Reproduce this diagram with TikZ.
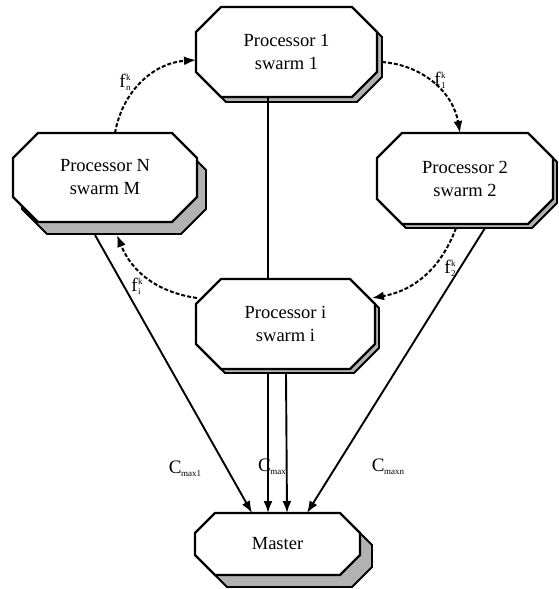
\documentclass[tikz,border=0pt]{standalone}
\usepackage{fontspec}
\setmainfont{Liberation Serif}
\usetikzlibrary{arrows.meta,calc}
\tikzset{
 boxline/.style={draw=black,line width=2.3pt,fill=white,line join=miter},
 boxshadow/.style={draw=black,line width=1.8pt,fill=black!30,line join=miter},
 boxtext/.style={draw=none,inner sep=0pt,outer sep=0pt,align=center,font=\fontsize{18.5}{23}\selectfont},
 link/.style={line width=1.9pt,-{Latex[length=12pt,width=9pt]}},
 plain/.style={line width=1.9pt},
 msg/.style={line width=2pt,dash pattern=on 4pt off 2pt,-{Latex[length=12pt,width=9pt]}},
 lbl/.style={inner sep=0pt,font=\fontsize{19}{19}\selectfont},
}
\newcommand\octpath[5]{(#1+#5,-#2) -- (#3-#5,-#2) -- (#3,-#2-#5) -- (#3,-#4+#5) -- (#3-#5,-#4) -- (#1+#5,-#4) -- (#1,-#4+#5) -- (#1,-#2-#5) -- cycle}
\newcommand\octbox[9]{%
 \draw[boxshadow,shift={(#7,-#8)}] \octpath{#2}{#3}{#4}{#5}{#6};
 \draw[boxline] \octpath{#2}{#3}{#4}{#5}{#6};
 \node[boxtext,minimum width={(#4-#2)*1pt},minimum height={(#5-#3)*1pt}] (#1) at ({(#2+#4)/2},{-(#3+#5)/2}) {#9};
}
\newcommand\smf{\fontsize{9}{9}\selectfont}
\newcommand\fk[1]{f\kern0.5pt\rlap{\raisebox{-3pt}{\smf #1}}\raisebox{7pt}{\smf k}}
\newcommand\cm[1]{C\kern-0.5pt\raisebox{-3pt}{\smf #1}}
\begin{document}
\begin{tikzpicture}[x=1pt,y=1pt]
\useasboundingbox (0,0) rectangle (558,-589);
\octbox{p1}{196}{7}{377}{97}{25}{5}{5}{Processor 1\\swarm 1}
\octbox{pN}{13}{133}{197}{222}{25}{9}{12}{Processor N\\swarm M}
\octbox{p2}{377}{133}{553}{224}{25}{4}{4}{Processor 2\\swarm 2}
\octbox{pI}{196}{279}{375}{369}{25}{4}{4}{Processor i\\swarm i}
\octbox{ma}{195}{513}{360}{575}{20}{12}{12}{Master}
\draw[plain] ($(p1.south)+(-18.5,0)$) -- ($(pI.north)+(-17.5,0)$);
\draw[msg] ($(pN.north)+(10,0)$) to[bend left=38] ($(p1.west)+(0,-8)$);
\draw[msg] ($(p1.east)+(5,-10)$) to[bend left=38] ($(p2.north)+(-5,0)$);
\draw[msg] ($(p2.south)+(-9,-4)$) to[bend left=30] ($(pI.east)+(-3,26)$);
\draw[msg] ($(pI.west)+(1,26)$) to[bend left=30] ($(pN.south)+(12,-13)$);
\draw[link] ($(pN.south)+(-10,-13)$) -- ($(ma.north)+(-25.5,0)$);
\draw[link] ($(pI.south)+(-17.5,-4)$) -- ($(ma.north)+(-9.5,0)$);
\draw[link] ($(pI.south)+(0.5,-4)$) -- ($(ma.north)+(9.5,0)$);
\draw[link] ($(p2.south)+(20,-4)$) -- ($(ma.north)+(29.5,0)$);
\node[lbl] (lfn) at (125,-82) {\fk{n}};
\node[lbl] (lf1) at (440,-80) {\fk{1}};
\node[lbl] (lf2) at (450,-268) {\fk{2}};
\node[lbl] (lfi) at (137,-286) {\fk{i}};
\node[lbl] (lc1) at (185,-469) {\cm{max1}};
\node[lbl] (lc) at (272,-467) {\cm{max}};
\node[lbl] (lcn) at (388,-467) {\cm{maxn}};
\end{tikzpicture}
\end{document}
